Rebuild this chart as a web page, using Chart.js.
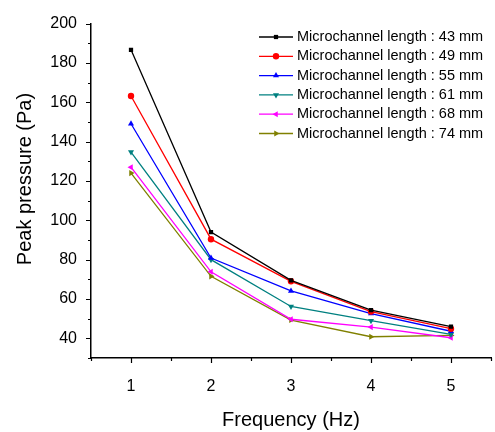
<!DOCTYPE html>
<html><head><meta charset="utf-8">
<script src="https://cdn.jsdelivr.net/npm/chart.js@4/dist/chart.umd.min.js"></script>
<style>html,body{margin:0;padding:0;background:#fff}#wrap{width:495px;height:432px}</style>
</head><body><div id="wrap"><canvas id="c" width="495" height="432"></canvas></div>
<script>
const frequencies = [1, 2, 3, 4, 5];
const seriesLabels = ["Microchannel length : 43 mm","Microchannel length : 49 mm","Microchannel length : 55 mm","Microchannel length : 61 mm","Microchannel length : 68 mm","Microchannel length : 74 mm"];
const len43 = [186.7, 94.0, 69.5, 54.3, 46.0];
const len49 = [163.2, 90.4, 69.0, 53.6, 44.9];
const len55 = [149.1, 80.8, 64.1, 52.6, 43.6];
const len61 = [134.7, 80.0, 56.2, 49.0, 42.0];
const len68 = [127.0, 73.8, 49.7, 45.7, 40.3];
const len74 = [124.0, 71.5, 49.3, 40.8, 41.5];
const yMajorTicks = [40, 60, 80, 100, 120, 140, 160, 180, 200];
const xMajorTicks = [1, 2, 3, 4, 5];
const xTitle = 'Frequency (Hz)';
const yTitle = 'Peak pressure (Pa)';

const FONT = '"Liberation Sans", Arial, sans-serif';
const colors = ['#000000','#ff0000','#0000ff','#008080','#ff00ff','#808000'];
const styles = ['rect','circle','triangle','triangle','triangle','triangle'];
const rots = [0,0,0,180,-90,90];
const radii = [3,3.2,3.5,3.5,3.5,3.5];
const allSeries = [len43,len49,len55,len61,len68,len74];

const datasets = allSeries.map((arr,i)=>({
  label: seriesLabels[i],
  data: frequencies.map((f,j)=>({x:f,y:arr[j]})),
  borderColor: colors[i], backgroundColor: colors[i],
  borderWidth: 1.3, pointStyle: styles[i], pointRotation: rots[i],
  pointRadius: radii[i], pointBorderWidth: 0, showLine: true, tension: 0
}));

const tickPlugin = {
  id:'ticks',
  afterDraw(chart){
    const ctx = chart.ctx, xs = chart.scales.x, ys = chart.scales.y;
    const a = chart.chartArea;
    ctx.save(); ctx.strokeStyle='#000'; ctx.lineWidth=1.2;
    ctx.beginPath();
    for(let v=30; v<=200; v+=10){
      const y = Math.round(ys.getPixelForValue(v))+0.5;
      const major = yMajorTicks.includes(v);
      ctx.moveTo(a.left, y); ctx.lineTo(a.left-(major?5:3), y);
    }
    for(let v=0.5; v<=5.5; v+=0.5){
      const x = Math.round(xs.getPixelForValue(v))+0.5;
      const major = xMajorTicks.includes(v);
      ctx.moveTo(x, a.bottom); ctx.lineTo(x, a.bottom+(major?5:3));
    }
    ctx.stroke();
    // y title
    ctx.save();
    ctx.translate(25, 179); ctx.rotate(-Math.PI/2);
    ctx.font = '20px ' + FONT; ctx.fillStyle='#000';
    ctx.textAlign='center'; ctx.textBaseline='middle';
    ctx.fillText(yTitle, 0, 0);
    ctx.restore();
    // legend
    ctx.font = '14.5px ' + FONT;
    ctx.textBaseline='middle'; ctx.textAlign='left';
    chart.data.datasets.forEach((ds,i)=>{
      const y = 37 + i*19.3;
      ctx.strokeStyle = ds.borderColor; ctx.lineWidth=1.3;
      ctx.beginPath(); ctx.moveTo(259,y); ctx.lineTo(293,y); ctx.stroke();
      ctx.fillStyle = ds.backgroundColor;
      Chart.helpers.drawPoint(ctx,{pointStyle:ds.pointStyle,rotation:ds.pointRotation,radius:ds.pointRadius,borderWidth:0},276,y);
      ctx.fillStyle='#000';
      ctx.fillText(ds.label, 297, y);
    });
    ctx.restore();
  }
};

new Chart(document.getElementById('c'), {
  type:'scatter',
  data:{datasets},
  options:{
    responsive:false, animation:false, devicePixelRatio:1,
    layout:{padding:{top:14,right:4,left:0,bottom:0}},
    plugins:{legend:{display:false},tooltip:{enabled:false}},
    scales:{
      x:{type:'linear', min:0.5, max:5.5,
        afterBuildTicks(s){ s.ticks = xMajorTicks.map(v=>({value:v})); },
        afterFit(s){ s.height = 74; },
        grid:{display:true, drawOnChartArea:false, drawTicks:false},
        border:{display:true,color:'#000',width:1.5},
        ticks:{color:'#000', padding:19, font:{family:FONT, size:16}},
        title:{display:true, text:xTitle, color:'#000', padding:{top:10,bottom:0}, font:{family:FONT, size:20}}
      },
      y:{type:'linear', min:30, max:200,
        afterBuildTicks(s){ s.ticks = yMajorTicks.map(v=>({value:v})); },
        afterFit(s){ s.width = 91; },
        grid:{display:true, drawOnChartArea:false, drawTicks:false},
        border:{display:true,color:'#000',width:1.5},
        ticks:{color:'#000', padding:14, font:{family:FONT, size:16}},
        title:{display:false}
      }
    }
  },
  plugins:[tickPlugin]
});
</script></body></html>
